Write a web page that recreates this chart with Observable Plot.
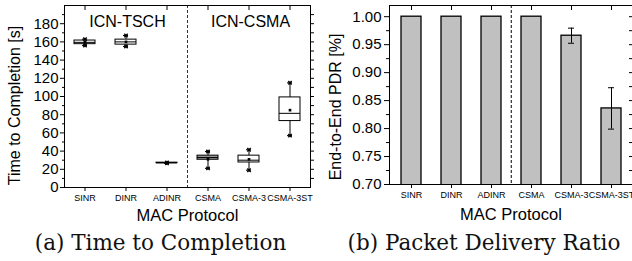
<!DOCTYPE html>
<html><head><meta charset="utf-8">
<script src="https://cdn.jsdelivr.net/npm/d3@7"></script>
<script src="https://cdn.jsdelivr.net/npm/@observablehq/plot@0.6"></script>
<style>
body{margin:0;background:#fff;}
#wrap{display:flex;width:632px;height:261px;overflow:hidden;}
.panel{width:316px;flex:none;overflow:hidden;}
.panel svg, .panel svg text{font-family:"Liberation Sans", Arial, sans-serif !important;}
.cap{font-family:"DejaVu Serif",serif;font-size:21.5px;line-height:30px;text-align:center;color:#111;white-space:nowrap;}
</style></head><body>
<div id="wrap"><div class="panel" id="a"></div><div class="panel" id="b"></div></div>
<script>
// ---- data ----
const categories = ["SINR", "DINR", "ADINR", "CSMA", "CSMA-3", "CSMA-3ST"];
// (a) Time to Completion [s] — box plot statistics
const whiskerLow  = [156,   155,   26.5, 21,   19,   57];
const quart1      = [157.5, 157,   26.8, 30.5, 27.5, 73];
const medianVal   = [159.5, 160,   27,   33,   30,   81.5];
const quart3      = [161.5, 162.5, 27.3, 35,   35,   99];
const whiskerHigh = [163,   167,   27.5, 39.5, 41.5, 115];
const meanVal     = [159.5, 160,   27,   31,   31,   85];
// (b) End-to-End PDR
const pdrVal = [1.0, 1.0, 1.0, 1.0, 0.966, 0.836];
const pdrErr = [0, 0, 0, 0, 0.0135, 0.037];
// labels
const groupLabels = ["ICN-TSCH", "ICN-CSMA"];
const groupAt = ["DINR", "CSMA-3"];
const groupY = [182, 182];
const yTicksA = [0, 20, 40, 60, 80, 100, 120, 140, 160, 180];
const yTicksB = [0.70, 0.75, 0.80, 0.85, 0.90, 0.95, 1.00];
const xLabel = "MAC Protocol";
const yLabelA = "Time to Completion [s]";
const yLabelB = "End-to-End PDR [%]";
const captionA = "(a) Time to Completion";
const captionB = "(b) Packet Delivery Ratio";

const boxData = categories.map((c, i) => ({cat: c, low: whiskerLow[i], q1: quart1[i], med: medianVal[i], q3: quart3[i], high: whiskerHigh[i], mean: meanVal[i]}));
const pdrData = categories.map((c, i) => ({cat: c, pdr: pdrVal[i], err: pdrErr[i]}));
const errData = pdrData.filter(d => d.err > 0);
const groups = groupLabels.map((t, i) => ({t, x: groupAt[i], y: groupY[i]}));

const font = "Liberation Sans, Arial, sans-serif";
const xScale = {type: "band", domain: categories, paddingInner: 0.5, paddingOuter: 0.25, label: null};

const minorA = d3.range(10, 200, 20);
const rightA = d3.range(10, 200, 10);
const minorB = d3.range(0.725, 1.02, 0.05);
const rightB = d3.range(0.725, 1.02, 0.025);

const left = Plot.plot({
  width: 316, height: 228,
  marginLeft: 64, marginRight: 6, marginTop: 5, marginBottom: 41,
  style: {fontFamily: font, fontSize: "15px", color: "#000", background: "#fff"},
  x: xScale,
  y: {domain: [0, 200], label: null},
  marks: [
    Plot.ruleX(["CSMA"], {x: d => d, dx: -20.5, stroke: "#333", strokeDasharray: "3,2"}),
    Plot.ruleX(boxData, {x: "cat", y1: "low", y2: "high", stroke: "#000"}),
    Plot.barY(boxData, {x: "cat", y1: "q1", y2: "q3", fill: d => d.cat === "CSMA" ? "#9a9a9a" : "#fff", stroke: "#000", strokeWidth: 1}),
    Plot.tickY(boxData, {x: "cat", y: "med", stroke: "#000"}),
    Plot.tickY(boxData, {x: "cat", y: "low", stroke: "#000", insetLeft: 8, insetRight: 8}),
    Plot.tickY(boxData, {x: "cat", y: "high", stroke: "#000", insetLeft: 8, insetRight: 8}),
    Plot.dot(boxData, {x: "cat", y: "mean", symbol: "square", r: 1.5, fill: "#000"}),
    Plot.dot(boxData, {x: "cat", y: "low", symbol: "times", r: 1.7, stroke: "#000"}),
    Plot.dot(boxData, {x: "cat", y: "high", symbol: "times", r: 1.7, stroke: "#000"}),
    Plot.text(groups, {x: "x", y: "y", text: "t", dx: 1.5, fontSize: 16}),
    Plot.frame({stroke: "#000"}),
    Plot.axisY({ticks: yTicksA, tickSize: 4, tickPadding: 2, label: null, fontSize: 15}),
    Plot.axisY({ticks: minorA, tickSize: 2, text: null, label: null}),
    Plot.axisY({anchor: "right", ticks: rightA, tickSize: 3, text: null, label: null}),
    Plot.axisX({tickSize: 4, tickPadding: 3, label: null, fontSize: 9}),
    Plot.axisX({anchor: "top", tickSize: -4, text: null, label: null}),
    Plot.text([yLabelA], {frameAnchor: "left", textAnchor: "middle", lineAnchor: "middle", dx: -50, dy: 9, rotate: -90, fontSize: 16}),
    Plot.text([xLabel], {frameAnchor: "bottom", lineAnchor: "middle", dy: 28, fontSize: 16.5})
  ]
});

const right = Plot.plot({
  width: 316, height: 228,
  marginLeft: 73, marginRight: 0, marginTop: 5, marginBottom: 44,
  style: {fontFamily: font, fontSize: "15px", color: "#000", background: "#fff"},
  x: xScale,
  y: {domain: [0.70, 1.02], label: null},
  marks: [
    Plot.barY(pdrData, {x: "cat", y: "pdr", fill: "#c0c0c0", stroke: "#000", strokeWidth: 1.3, clip: true}),
    Plot.ruleX(["CSMA"], {x: d => d, dx: -20.25, stroke: "#000", strokeDasharray: "3,2"}),
    Plot.ruleX(errData, {x: "cat", y1: d => d.pdr - d.err, y2: d => d.pdr + d.err, stroke: "#000"}),
    Plot.tickY(errData, {x: "cat", y: d => d.pdr - d.err, stroke: "#000", insetLeft: 7, insetRight: 7}),
    Plot.tickY(errData, {x: "cat", y: d => d.pdr + d.err, stroke: "#000", insetLeft: 7, insetRight: 7}),
    Plot.frame({stroke: "#000"}),
    Plot.axisY({ticks: yTicksB, tickFormat: ".2f", tickSize: 5, tickPadding: 3, label: null, fontSize: 15}),
    Plot.axisY({ticks: minorB, tickSize: 3, text: null, label: null}),
    Plot.axisY({anchor: "right", ticks: rightB, tickSize: -4, text: null, label: null}),
    Plot.axisX({tickSize: 4, tickPadding: 3, label: null, fontSize: 9}),
    Plot.axisX({anchor: "top", tickSize: -4, text: null, label: null}),
    Plot.text([yLabelB], {frameAnchor: "left", textAnchor: "middle", lineAnchor: "middle", dx: -54, dy: 12, rotate: -90, fontSize: 16}),
    Plot.text([xLabel], {frameAnchor: "bottom", lineAnchor: "middle", dy: 30, fontSize: 16.5})
  ]
});

function addPanel(id, chart, caption, shift) {
  const el = document.getElementById(id);
  el.appendChild(chart);
  const c = document.createElement("div");
  c.className = "cap";
  c.style.paddingLeft = shift + "px";
  c.textContent = caption;
  el.appendChild(c);
}
addPanel("a", left, captionA, 5);
addPanel("b", right, captionB, 20);
</script>
</body></html>
